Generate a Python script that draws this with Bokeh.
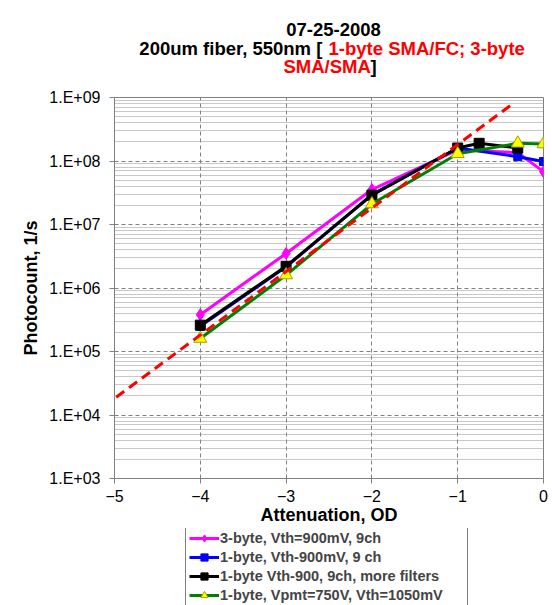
from bokeh.plotting import figure
from bokeh.layouts import column
from bokeh.models import FixedTicker, CustomJSTickFormatter, Label, Legend, LegendItem, Range1d
from bokeh.embed import file_html
from bokeh.resources import INLINE

# ---- data ----
attn_mag = [-4, -3, -2, -1, -0.3, 0]
cnt_mag = [3.8e5, 3.5e6, 3.55e7, 1.5e8, 1.35e8, 6.8e7]

attn_blue = [-4, -3, -2, -1, -0.3, 0]
cnt_blue = [2.5e5, 2.15e6, 2.95e7, 1.6e8, 1.17e8, 9.8e7]

attn_black = [-4, -3, -2, -1, -0.75, -0.3]
cnt_black = [2.6e5, 2.2e6, 2.9e7, 1.6e8, 1.9e8, 1.6e8]

attn_green = [-4, -3, -2, -1, -0.3, 0]
cnt_green = [1.6e5, 1.6e6, 2.1e7, 1.3e8, 1.9e8, 1.85e8]

ref_attn = [-5.43, -0.36]
ref_cnt = [10 ** 3.83, 10 ** 8.9]

x_ticks = [-5, -4, -3, -2, -1, 0]
y_ticks = [1e3, 1e4, 1e5, 1e6, 1e7, 1e8, 1e9]
y_minor = [m * t for t in y_ticks[:-1] for m in range(2, 10)]

legend_labels = [
    "3-byte, Vth=900mV, 9ch",
    "1-byte, Vth-900mV, 9 ch",
    "1-byte Vth-900, 9ch, more filters",
    "1-byte, Vpmt=750V, Vth=1050mV",
]

FONT = "Liberation Sans"
W = 552
TITLE_H = 88
MAIN_H = 440
LEG_H = 77
FRAME_L = 114   # page x of the plot frame's left edge (frames are aligned in the column)
FRAME_R = 543   # page x of the plot frame's right edge


def strip(height, y_rng):
    f = figure(width=W, height=height, x_range=Range1d(FRAME_L, FRAME_R), y_range=y_rng,
               output_backend="svg", toolbar_location=None,
               x_axis_location=None, y_axis_location=None,
               min_border_left=FRAME_L, min_border_right=W - FRAME_R,
               min_border_top=0, min_border_bottom=0)
    f.grid.visible = False
    f.outline_line_color = None
    f.background_fill_color = "white"
    f.border_fill_color = "white"
    return f


# ---------------- title strip ----------------
t = strip(TITLE_H, Range1d(TITLE_H, 0))


def title_label(px, py, text, align, color):
    t.add_layout(Label(x=px, y=py, text=text, text_align=align,
                       text_baseline="middle", text_font=FONT,
                       text_font_style="bold", text_font_size="18.5px",
                       text_color=color))


title_label(333, 29, "07-25-2008", "center", "black")
title_label(327, 48, "200um fiber, 550nm  [", "right", "black")
title_label(328, 48, "1-byte SMA/FC; 3-byte", "left", "#FF0000")
title_label(283, 66, "SMA/SMA", "left", "#FF0000")
title_label(370, 66, "]", "left", "black")

# ---------------- main plot ----------------
p = figure(width=W, height=MAIN_H, x_range=(-5, 0), y_range=(1e3, 1e9),
           y_axis_type="log", output_backend="svg", toolbar_location=None,
           min_border_left=FRAME_L, min_border_right=W - FRAME_R, min_border_top=9,
           min_border_bottom=50)
p.background_fill_color = "white"
p.border_fill_color = "white"
p.outline_line_color = "#808080"
p.outline_line_width = 1

p.xaxis.ticker = FixedTicker(ticks=x_ticks)
p.yaxis.ticker = FixedTicker(ticks=y_ticks, minor_ticks=y_minor)
p.yaxis.formatter = CustomJSTickFormatter(code="""
    const e = Math.round(Math.log10(tick));
    return "1.E+" + String(e).padStart(2, "0");
""")
for ax in (p.xaxis[0], p.yaxis[0]):
    ax.axis_line_color = "#808080"
    ax.major_tick_line_color = "#808080"
    ax.major_tick_out = 5
    ax.major_tick_in = 0
    ax.minor_tick_out = 0
    ax.minor_tick_in = 0
    ax.major_label_text_font = FONT
    ax.major_label_text_font_size = "16px"
    ax.major_label_text_color = "black"
    ax.axis_label_text_font = FONT
    ax.axis_label_text_font_style = "bold"
    ax.axis_label_text_font_size = "18px"
    ax.axis_label_text_color = "black"
p.xaxis.major_label_standoff = 6
p.xaxis.axis_label = "Attenuation, OD"
p.xaxis.axis_label_standoff = 0
p.yaxis.major_label_standoff = 9
p.yaxis.axis_label = "Photocount, 1/s"
p.yaxis.axis_label_standoff = 5

p.xgrid.ticker = FixedTicker(ticks=x_ticks)
p.xgrid.grid_line_color = "#808080"
p.xgrid.grid_line_dash = "4 3"
p.ygrid.ticker = FixedTicker(ticks=y_ticks, minor_ticks=y_minor)
p.ygrid.grid_line_color = "#808080"
p.ygrid.grid_line_dash = "4 3"
p.ygrid.minor_grid_line_color = "#909090"
p.ygrid.minor_grid_line_dash = "1 1"

styles = [
    ("#FF00FF", "diamond", 12, "#FF00FF", "#FF00FF"),
    ("#0000FF", "square", 8, "#0000FF", "#0000FF"),
    ("#000000", "square", 10, "#000000", "#000000"),
    ("#008000", "triangle", 13, "#FFFF00", "#A0A000"),
]
data = [(attn_mag, cnt_mag), (attn_blue, cnt_blue),
        (attn_black, cnt_black), (attn_green, cnt_green)]
for (xs, ys), (col, mk, sz, fill, edge) in zip(data, styles):
    p.line(xs, ys, line_color=col, line_width=3)
    p.scatter(xs, ys, marker=mk, size=sz, fill_color=fill, line_color=edge)

p.line(ref_attn, ref_cnt, line_color="#FF0000", line_width=3, line_dash="10 6")

# ---------------- legend strip ----------------
# the same series are drawn here only to feed the legend; this strip's ranges
# keep them out of view, so only the legend samples show.
lg = strip(LEG_H, Range1d(0, 1))
items = []
for (xs, ys), (col, mk, sz, fill, edge), lab in zip(data, styles, legend_labels):
    r1 = lg.line(xs, ys, line_color=col, line_width=3)
    r2 = lg.scatter(xs, ys, marker=mk, size=min(sz, 10), fill_color=fill, line_color=edge)
    items.append(LegendItem(label=lab, renderers=[r1, r2]))
legend = Legend(items=items, location=(185 - FRAME_L, -3), border_line_color="black",
                border_line_width=1, label_text_font=FONT,
                label_text_font_style="bold", label_text_font_size="14.5px",
                glyph_width=30, glyph_height=18, label_height=18, label_width=244,
                spacing=1, padding=3, margin=0, label_standoff=1,
                background_fill_color="white", background_fill_alpha=1)
lg.add_layout(legend)

layout = column(t, p, lg, spacing=0)
open("out.html", "w").write(file_html(layout, INLINE))
